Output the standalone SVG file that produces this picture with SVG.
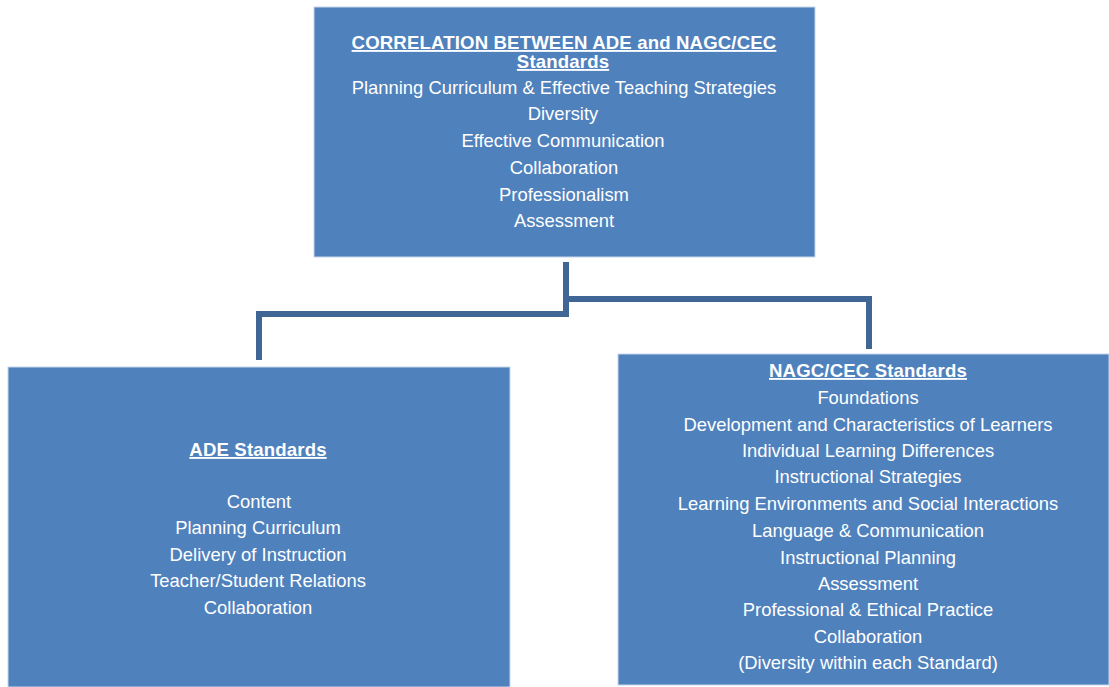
<svg xmlns="http://www.w3.org/2000/svg" width="1109" height="687" viewBox="0 0 1109 687">
<style>
.box{fill:#4F81BD;stroke:#C6D6EA;stroke-width:1}
.t{font-family:"Liberation Sans",Arial,sans-serif;font-size:18.4px;fill:#FFFFFF;text-anchor:middle}
.h{font-weight:bold;text-decoration:underline;font-size:18.6px;letter-spacing:0.15px}
.c{fill:none;stroke:#3F6695;stroke-width:6;stroke-linejoin:miter}
</style>
<rect width="1109" height="687" fill="#FFFFFF"/>
<g id="connectors">
<path class="c" d="M566,262 V314 H259 V360"/>
<path class="c" d="M566,299 H869 V349"/>
</g>
<g id="top">
<rect class="box" x="314" y="7" width="501" height="250"/>
<text class="t h" x="564" y="49">CORRELATION BETWEEN ADE and NAGC/CEC</text>
<text class="t h" x="563" y="68">Standards</text>
<text class="t" x="564" y="94">Planning Curriculum &amp; Effective Teaching Strategies</text>
<text class="t" x="563" y="120">Diversity</text>
<text class="t" x="563" y="147">Effective Communication</text>
<text class="t" x="564" y="174">Collaboration</text>
<text class="t" x="564" y="201">Professionalism</text>
<text class="t" x="564" y="227">Assessment</text>
</g>
<g id="ade">
<rect class="box" x="8" y="367" width="502" height="320"/>
<text class="t h" x="258" y="456">ADE Standards</text>
<text class="t" x="259" y="508">Content</text>
<text class="t" x="258" y="534">Planning Curriculum</text>
<text class="t" x="258" y="561">Delivery of Instruction</text>
<text class="t" x="258" y="587">Teacher/Student Relations</text>
<text class="t" x="258" y="614">Collaboration</text>
</g>
<g id="nagc">
<rect class="box" x="618" y="354" width="491" height="331"/>
<text class="t h" x="868" y="377">NAGC/CEC Standards</text>
<text class="t" x="868" y="404">Foundations</text>
<text class="t" x="868" y="431">Development and Characteristics of Learners</text>
<text class="t" x="868" y="457">Individual Learning Differences</text>
<text class="t" x="868" y="483">Instructional Strategies</text>
<text class="t" x="868" y="510">Learning Environments and Social Interactions</text>
<text class="t" x="868" y="537">Language &amp; Communication</text>
<text class="t" x="868" y="564">Instructional Planning</text>
<text class="t" x="868" y="590">Assessment</text>
<text class="t" x="868" y="616">Professional &amp; Ethical Practice</text>
<text class="t" x="868" y="643">Collaboration</text>
<text class="t" x="868" y="669">(Diversity within each Standard)</text>
</g>
</svg>
